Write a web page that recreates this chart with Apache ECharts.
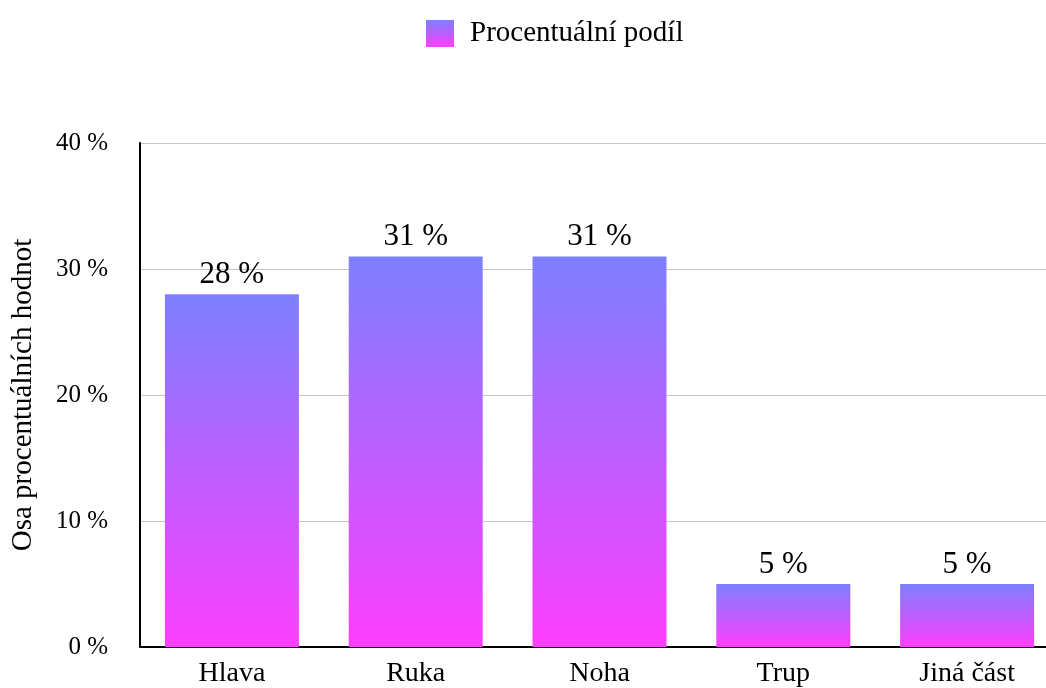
<!DOCTYPE html>
<html lang="cs">
<head>
<meta charset="UTF-8">
<title>Procentuální podíl</title>
<style>
  html, body { margin: 0; padding: 0; background: #fff; }
  #chart { width: 1046px; height: 688px; }
</style>
</head>
<body>
<div id="chart"></div>
<script src="https://cdn.jsdelivr.net/npm/echarts@6/dist/echarts.min.js"></script>
<script>
  // kategorie a hodnoty
  var categories = ['Hlava', 'Ruka', 'Noha', 'Trup', 'Jiná část'];
  var values = [28, 31, 31, 5, 5];
  var yTicks = [0, 10, 20, 30, 40];
  var seriesName = 'Procentuální podíl';

  var font = 'Liberation Serif, Times New Roman, serif';
  var chart = echarts.init(document.getElementById('chart'));

  var barColor = new echarts.graphic.LinearGradient(0, 0, 0, 1, [
    { offset: 0, color: '#7e80ff' },
    { offset: 1, color: '#fd3ffe' }
  ]);

  var option = {
    animation: false,
    legend: {
      data: [seriesName],
      top: 14,
      left: 421,
      itemWidth: 28,
      itemHeight: 27,
      itemGap: 10,
      icon: 'rect',
      textStyle: { fontFamily: font, fontSize: 29, color: '#000', padding: [0, 0, 0, 11] },
      selectedMode: false
    },
    grid: {
      left: 140,
      top: 143,
      width: 919,
      height: 504,
      outerBoundsMode: 'none',
      containLabel: false
    },
    xAxis: {
      type: 'category',
      data: categories,
      axisLine: { lineStyle: { color: '#000', width: 2 } },
      axisTick: { show: false },
      axisLabel: { fontFamily: font, fontSize: 28, color: '#000', margin: 13 }
    },
    yAxis: {
      type: 'value',
      min: yTicks[0],
      max: yTicks[yTicks.length - 1],
      interval: 10,
      name: 'Osa procentuálních hodnot',
      nameLocation: 'middle',
      nameGap: 102,
      nameTextStyle: { fontFamily: font, fontSize: 29, color: '#000' },
      axisLine: { show: true, lineStyle: { color: '#000', width: 2 } },
      axisTick: { show: false },
      axisLabel: {
        fontFamily: font, fontSize: 25, color: '#000', margin: 32,
        formatter: '{value} %'
      },
      splitLine: { lineStyle: { color: '#c4c4c4', width: 1 } }
    },
    series: [{
      name: seriesName,
      type: 'bar',
      data: values,
      barWidth: 134,
      itemStyle: { color: barColor },
      label: {
        show: true,
        position: 'top',
        distance: 4,
        formatter: '{c} %',
        fontFamily: font,
        fontSize: 31,
        color: '#000'
      }
    }]
  };
  chart.setOption(option);
</script>
</body>
</html>
